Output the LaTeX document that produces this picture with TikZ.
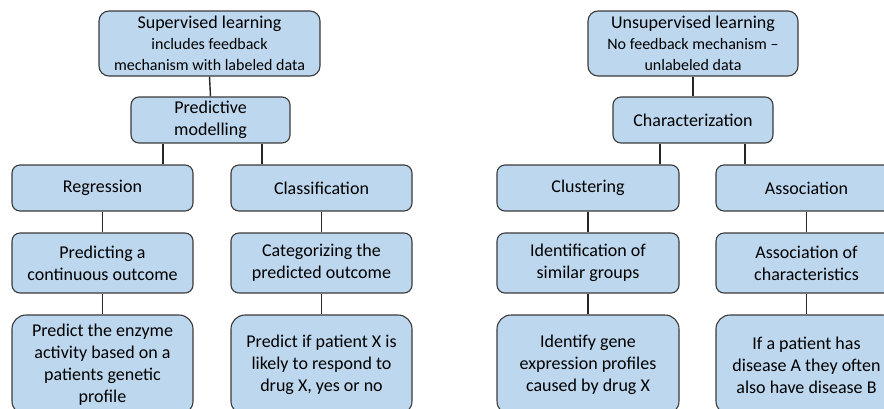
\documentclass[tikz,border=0pt]{standalone}
\usepackage{fontspec}
\setmainfont{Carlito}
\definecolor{boxfill}{HTML}{BDD7EE}
\definecolor{boxline}{HTML}{3A3A3A}
\definecolor{linkcol}{HTML}{262626}
\begin{document}
\begin{tikzpicture}[x=1pt,y=-1pt,
  box/.style={draw=boxline, fill=boxfill, rounded corners=8pt, line width=1.1pt,
    align=center, inner sep=0pt, font=\fontsize{18}{22}\selectfont,
    minimum width=181pt, minimum height=46pt},
  tallbox/.style={box, minimum height=60pt},
  leafbox/.style={box, minimum height=100pt, rounded corners=14pt},
  headbox/.style={box, minimum height=65pt, rounded corners=10pt,
    font=\fontsize{16}{21}\selectfont},
  link/.style={draw=linkcol, line width=1.4pt}]
\useasboundingbox (0,0) rectangle (884,408);
\clip (0,0) rectangle (884,408);

% supervised branch
\node[headbox, minimum width=221pt] (sup) at (209.5,43.5)
  {{\fontsize{18}{20}\selectfont Supervised learning}\\includes feedback\\mechanism with labeled data};
\node[box, minimum width=159pt] (pm) at (210.5,120) {Predictive\\modelling};
\node[box] (reg) at (102.5,188) {Regression};
\node[box] (cls) at (321.5,188) {Classification};
\node[tallbox] (pco) at (102.5,263) {Predicting a\\continuous outcome};
\node[tallbox] (cat) at (321.5,263) {Categorizing the\\predicted outcome};
\node[leafbox] (enz) at (102.5,365) {Predict the enzyme\\activity based on a\\patients genetic\\profile};
\node[leafbox] (pat) at (321.5,365) {Predict if patient X is\\likely to respond to\\drug X, yes or no};

% unsupervised branch
\node[headbox, minimum width=210pt] (uns) at (693,43.5)
  {{\fontsize{18}{20}\selectfont Unsupervised learning}\\No feedback mechanism --\\unlabeled data};
\node[box, minimum width=160pt] (chr) at (693,120) {Characterization};
\node[box, minimum width=182pt] (clu) at (588,188) {Clustering};
\node[box] (aso) at (806.5,188) {Association};
\node[tallbox, minimum width=182pt] (idf) at (588,263) {Identification of\\similar groups};
\node[tallbox] (aoc) at (806.5,263) {Association of\\characteristics};
\node[leafbox, minimum width=182pt] (gen) at (588,365) {Identify gene\\expression profiles\\caused by drug X};
\node[leafbox] (dis) at (806.5,365) {If a patient has\\disease A they often\\also have disease B};

% connectors
\begin{scope}[on background layer/.style={}]
\path[link] (sup.south) -- (pm.north);
\path[link] ([xshift=-47.5pt]pm.south) -- ([xshift=-47.5pt]pm.south |- reg.north);
\path[link] ([xshift=51.5pt]pm.south) -- ([xshift=51.5pt]pm.south |- cls.north);
\path[link] (reg.south) -- (pco.north);
\path[link] (cls.south) -- (cat.north);
\path[link] (pco.south) -- (enz.north);
\path[link] (cat.south) -- (pat.north);
\path[link] (uns.south) -- (chr.north);
\path[link] ([xshift=-33pt]chr.south) -- ([xshift=-33pt]chr.south |- clu.north);
\path[link] ([xshift=52pt]chr.south) -- ([xshift=52pt]chr.south |- aso.north);
\path[link] (clu.south) -- (idf.north);
\path[link] (aso.south) -- (aoc.north);
\path[link] (idf.south) -- (gen.north);
\path[link] (aoc.south) -- (dis.north);
\end{scope}
\end{tikzpicture}
\end{document}
